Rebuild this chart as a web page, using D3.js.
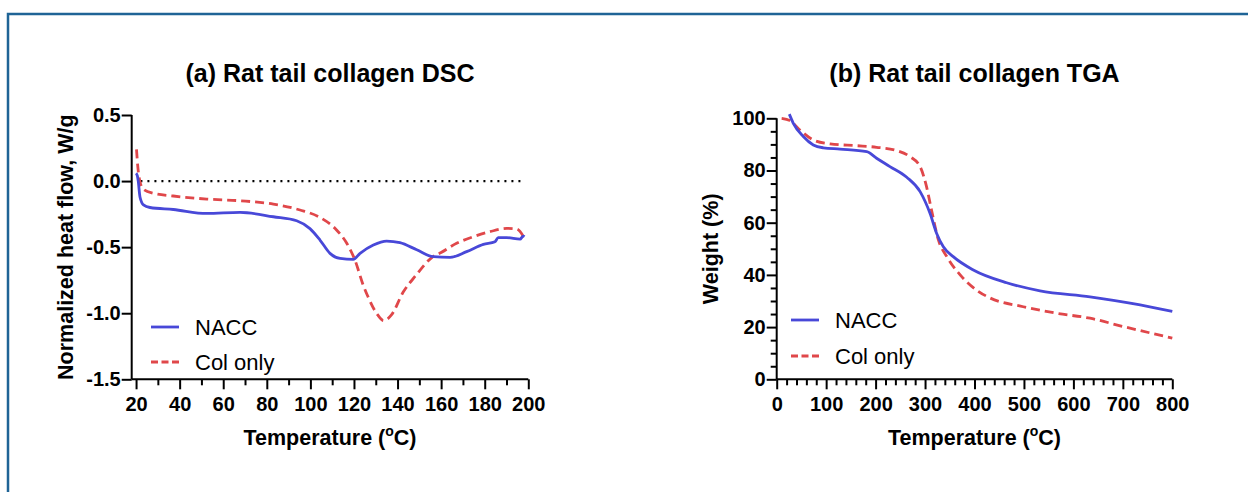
<!DOCTYPE html>
<html lang="en">
<head>
    <meta charset="UTF-8">
    <title>Rat tail collagen DSC / TGA</title>
    <script src="https://d3js.org/d3.v7.min.js"></script>
    <style>
        body {
            margin: 0;
            background: #fff;
            font-family: "Liberation Sans", Arial, sans-serif;
        }
        .axis path,
        .axis line {
            stroke: #000;
            stroke-width: 2px;
            fill: none;
        }
        .axis text {
            font-family: "Liberation Sans", Arial, sans-serif;
            font-size: 20px;
            font-weight: bold;
            fill: #000;
        }
        .title {
            font-size: 25px;
            font-weight: bold;
        }
        .axis-title {
            font-size: 21.5px;
            font-weight: bold;
        }
        .legend-text {
            font-size: 22px;
        }
        .nacc {
            stroke: #4848d8;
            stroke-width: 2.8px;
            fill: none;
        }
        .col {
            stroke: #e0474a;
            stroke-width: 2.8px;
            stroke-dasharray: 9, 5;
            fill: none;
        }
        .col.key {
            stroke-dasharray: 7, 3.5;
        }
    </style>
</head>
<body>
<svg width="1248" height="492"></svg>
<script>
    // (a) DSC, heat flow W/g vs temperature
    var dscTempNacc = [20.0, 20.6, 21.0, 21.8, 23.4, 26.4, 37.1, 52.4, 67.7, 83.0, 93.7, 99.8, 104.4, 109.0, 113.6, 119.7,
        122.8, 128.9, 135.0, 141.1, 148.8, 156.4, 164.1, 171.7, 179.4, 184.7, 186.2, 190.1, 196.2, 197.7, 198.3];
    var dscNacc = [0.06, 0.04, 0.0, -0.12, -0.18, -0.20, -0.215, -0.245, -0.237, -0.27, -0.30, -0.36, -0.446, -0.547, -0.585, -0.592,
        -0.547, -0.484, -0.454, -0.466, -0.52, -0.572, -0.577, -0.534, -0.479, -0.459, -0.428, -0.428, -0.44, -0.416, -0.42];
    var dscTempCol = [20.2, 20.8, 21.8, 23.4, 28.0, 37.1, 52.4, 67.7, 83.0, 95.2, 104.4, 112.0, 116.7, 120.5, 124.3, 126.3,
        130.9, 133.6, 137.2, 142.6, 148.1, 156.0, 160.0, 167.1, 174.8, 182.4, 190.1, 194.7, 197.7, 198.3];
    var dscCol = [0.24, 0.11, -0.005, -0.063, -0.093, -0.113, -0.136, -0.149, -0.174, -0.219, -0.275, -0.37, -0.471, -0.60, -0.79, -0.87,
        -1.013, -1.056, -1.013, -0.84, -0.72, -0.575, -0.54, -0.471, -0.421, -0.383, -0.358, -0.363, -0.42, -0.44];

    // (b) TGA, weight % vs temperature
    var tgaTempNacc = [25.5, 33.6, 53.8, 74, 94.2, 128, 182, 202, 229, 263, 290, 310, 323.5, 337, 357, 397.6, 465, 532.5, 633.6, 735, 800];
    var tgaNacc = [101.6, 98.1, 93, 89.8, 88.7, 88.2, 87.2, 84.7, 81.5, 77.4, 71.9, 63.6, 55.9, 50.8, 47, 41.9, 37, 33.9, 31.6, 28.5, 26];
    var tgaTempCol = [10, 27, 47, 74, 108, 162, 202, 243, 269.6, 290, 303, 313, 327, 344, 371, 404, 431, 498.7, 566, 633.6, 701, 768, 800];
    var tgaCol = [100, 99.1, 95.5, 91.7, 90.2, 89.5, 88.9, 87.6, 85.3, 81.5, 73.8, 64.9, 53.4, 47, 40, 34.2, 31.2, 27.8, 25.3, 23.4, 20.2, 17.2, 15.8];

    var seriesNames = ["NACC", "Col only"];
    var dscXTicks = d3.range(20, 201, 20), dscXMinor = d3.range(30, 200, 20);
    var dscYTicks = [-1.5, -1.0, -0.5, 0.0, 0.5];
    var tgaXTicks = d3.range(0, 801, 100), tgaXMinor = d3.range(20, 800, 20).filter(function(v) { return v % 100; });
    var tgaYTicks = d3.range(0, 101, 20), tgaYMinor = d3.range(5, 100, 5).filter(function(v) { return v % 20; });

    var svg = d3.select("svg");

    // frame (left and top edges visible)
    svg.append("path")
        .attr("d", "M8,492 L8,14 L1248,14")
        .attr("fill", "none")
        .attr("stroke", "#1f6496")
        .attr("stroke-width", 2.5);

    function zip(xs, ys) { return xs.map(function(v, i) { return [v, ys[i]]; }); }

    function panel(opt) {
        var x = d3.scaleLinear().domain(opt.xDomain).range(opt.xRange);
        var y = d3.scaleLinear().domain(opt.yDomain).range(opt.yRange);
        var g = svg.append("g");

        // title
        g.append("text").attr("class", "title")
            .attr("x", (opt.xRange[0] + opt.xRange[1]) / 2).attr("y", 82)
            .attr("text-anchor", "middle").text(opt.title);

        if (opt.zeroLine) {
            g.append("line")
                .attr("x1", x(22)).attr("x2", x(198))
                .attr("y1", y(0)).attr("y2", y(0))
                .attr("stroke", "#000").attr("stroke-width", 2.2)
                .attr("stroke-dasharray", "2,5");
        }

        // minor ticks
        var xMinor = g.append("g").attr("class", "axis")
            .attr("transform", "translate(0," + opt.yRange[0] + ")")
            .call(d3.axisBottom(x).tickValues(opt.xMinor).tickSize(6).tickFormat("").tickSizeOuter(0));
        xMinor.select(".domain").remove();
        if (opt.yMinor) {
            var yMinor = g.append("g").attr("class", "axis")
                .attr("transform", "translate(" + opt.xRange[0] + ",0)")
                .call(d3.axisLeft(y).tickValues(opt.yMinor).tickSize(6).tickFormat("").tickSizeOuter(0));
            yMinor.select(".domain").remove();
        }

        // major axes
        var xa = g.append("g").attr("class", "axis")
            .attr("transform", "translate(0," + opt.yRange[0] + ")")
            .call(d3.axisBottom(x).tickValues(opt.xTicks).tickSize(10).tickSizeOuter(0).tickFormat(d3.format("d")));
        xa.selectAll("text").attr("y", 18).attr("dy", "0.71em");
        var ya = g.append("g").attr("class", "axis")
            .attr("transform", "translate(" + opt.xRange[0] + ",0)")
            .call(d3.axisLeft(y).tickValues(opt.yTicks).tickSize(10).tickSizeOuter(0)
                .tickFormat(function(d) { return opt.yFormat(d).replace("\u2212", "-"); }));
        ya.selectAll("text").attr("x", -11);
        xa.select(".domain").attr("d", "M" + opt.xRange[0] + ",0H" + opt.xRange[1]);
        ya.select(".domain").attr("d", "M0," + opt.yRange[0] + "V" + opt.yRange[1]);

        // axis titles
        var xt = g.append("text").attr("class", "axis-title")
            .attr("x", (opt.xRange[0] + opt.xRange[1]) / 2).attr("y", 445)
            .attr("text-anchor", "middle");
        xt.append("tspan").text("Temperature (");
        xt.append("tspan").attr("dy", -9).style("font-size", "14px").text("o");
        xt.append("tspan").attr("dy", 9).text("C)");

        g.append("text").attr("class", "axis-title")
            .attr("transform", "translate(" + (opt.xRange[0] - 59) + "," + ((opt.yRange[0] + opt.yRange[1]) / 2) + ") rotate(-90)")
            .attr("text-anchor", "middle").text(opt.yTitle);

        // series
        var line = d3.line().x(function(d) { return x(d[0]); }).y(function(d) { return y(d[1]); })
            .curve(d3.curveMonotoneX);
        g.append("path").attr("class", "col").attr("d", line(opt.col));
        g.append("path").attr("class", "nacc").attr("d", line(opt.nacc));

        // legend
        seriesNames.forEach(function(name, i) {
            var ly = opt.legendY[i];
            g.append("line").attr("class", i === 0 ? "nacc key" : "col key")
                .attr("x1", opt.legendX).attr("x2", opt.legendX + 28)
                .attr("y1", ly).attr("y2", ly);
            g.append("text").attr("class", "legend-text")
                .attr("x", opt.legendX + 44).attr("y", ly).attr("dy", "0.36em")
                .text(name);
        });
    }

    panel({
        title: "(a) Rat tail collagen DSC",
        xDomain: [18, 200], xRange: [131.7, 528.3],
        yDomain: [-1.5, 0.5], yRange: [379.3, 115],
        xTicks: dscXTicks, xMinor: dscXMinor, yTicks: dscYTicks,
        yFormat: d3.format(".1f"),
        yTitle: "Normalized heat flow, W/g",
        zeroLine: true,
        nacc: zip(dscTempNacc, dscNacc), col: zip(dscTempCol, dscCol),
        legendX: 151, legendY: [327, 362]
    });

    panel({
        title: "(b) Rat tail collagen TGA",
        xDomain: [0, 800], xRange: [776.7, 1172.3],
        yDomain: [0, 100], yRange: [379.3, 118.3],
        xTicks: tgaXTicks, xMinor: tgaXMinor, yTicks: tgaYTicks, yMinor: tgaYMinor,
        yFormat: d3.format("d"),
        yTitle: "Weight (%)",
        nacc: zip(tgaTempNacc, tgaNacc), col: zip(tgaTempCol, tgaCol),
        legendX: 791, legendY: [320, 356]
    });
</script>
</body>
</html>
